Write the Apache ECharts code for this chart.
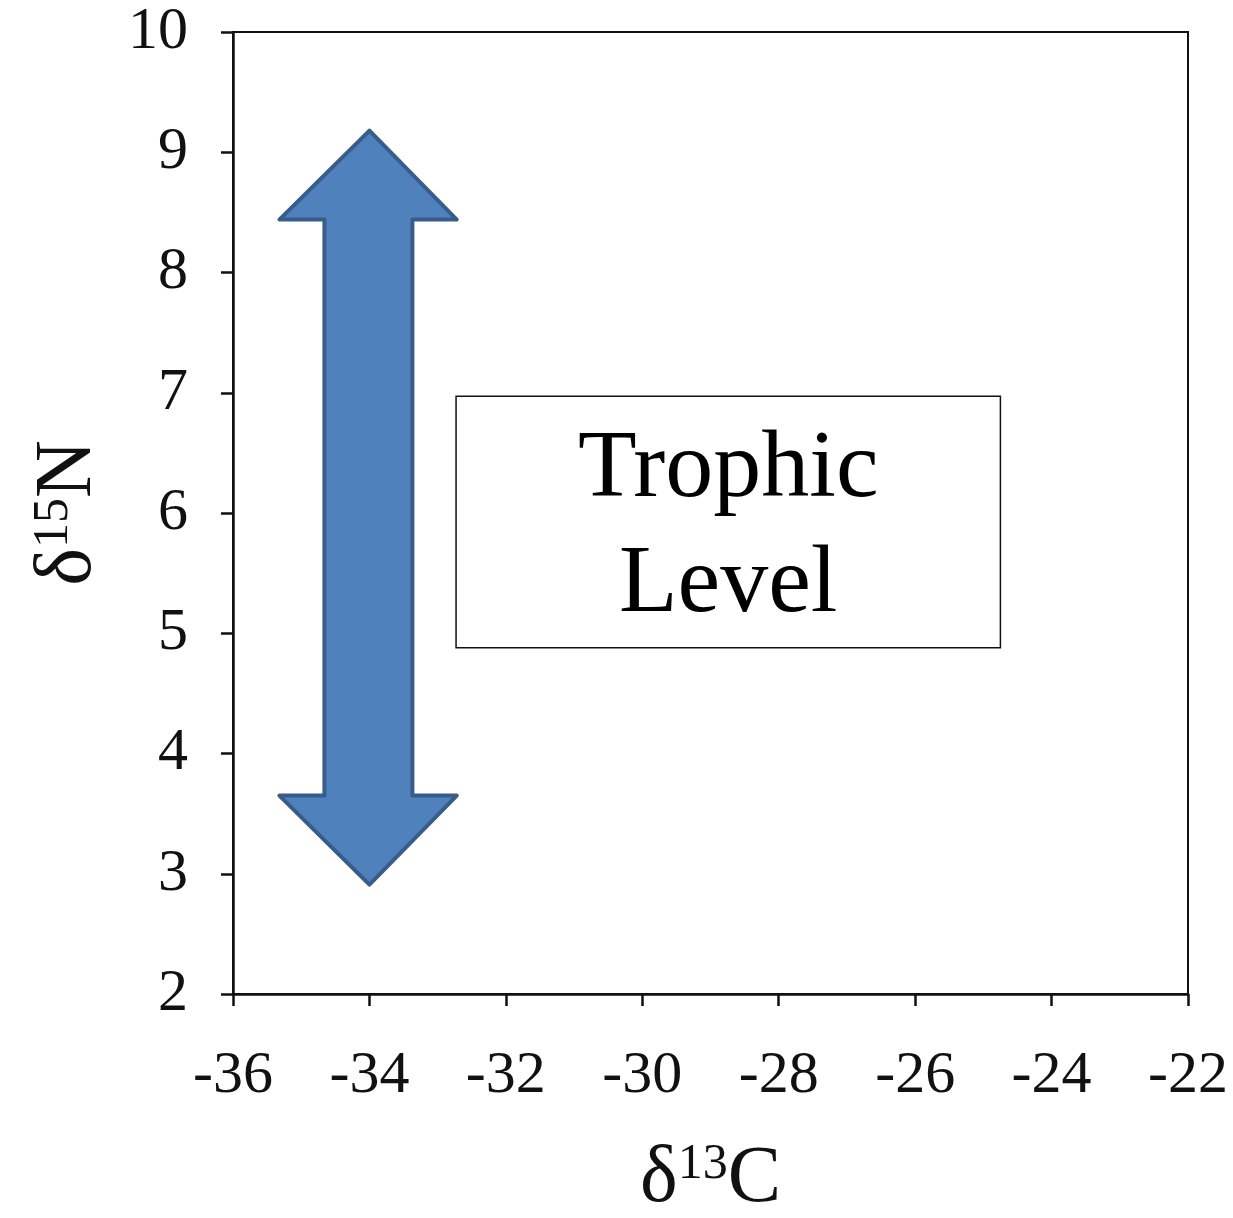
<!DOCTYPE html>
<html>
<head>
<meta charset="utf-8">
<script src="https://cdn.jsdelivr.net/npm/echarts@6/dist/echarts.min.js"></script>
<style>html,body{margin:0;padding:0;background:#fff;}#c{width:1233px;height:1218px;}</style>
</head>
<body>
<div id="c"></div>
<script>
// Axis ranges and ticks
const xMin = -36, xMax = -22, xStep = 2;
const yMin = 2, yMax = 10, yStep = 1;

// Double-headed arrow outline (δ13C, δ15N) vertices
const arrowX = [-34, -32.72, -33.37, -33.37, -32.72, -34, -35.32, -34.66, -34.66, -35.32];
const arrowY = [9.18, 8.44, 8.44, 3.65, 3.65, 2.91, 3.65, 3.65, 8.44, 8.44];

// Label box corners and text
const boxX = [-32.73, -24.75];
const boxY = [6.97, 4.88];
const boxLines = ['Trophic', 'Level'];

const FONT = '"Liberation Serif", "DejaVu Serif", serif';
const INK = '#111';

const chart = echarts.init(document.getElementById('c'), null, {renderer: 'canvas'});
chart.setOption({
  animation: false,
  backgroundColor: '#fff',
  grid: {left: 233, right: 45, top: 32, bottom: 224, containLabel: false, outerBoundsMode: 'none',
         show: true, borderColor: INK, borderWidth: 2, backgroundColor: 'transparent'},
  xAxis: {
    type: 'value', min: xMin, max: xMax, interval: xStep,
    name: '{d|δ}{s|13}{d|C}', nameLocation: 'middle', nameGap: 146,
    nameTextStyle: {rich: {
      d: {fontFamily: FONT, fontSize: 80, color: INK},
      s: {fontFamily: FONT, fontSize: 50, color: INK, verticalAlign: 'top', padding: [0, 0, 28, 0]}
    }},
    axisLine: {show: true, lineStyle: {color: INK, width: 2.5}},
    axisTick: {show: true, inside: false, length: 12, lineStyle: {color: INK, width: 2.5}},
    axisLabel: {fontFamily: FONT, fontSize: 60, color: INK, margin: 52},
    splitLine: {show: false}
  },
  yAxis: {
    type: 'value', min: yMin, max: yMax, interval: yStep,
    name: '{d|δ}{s|15}{d|N}', nameLocation: 'middle', nameGap: 124, nameRotate: 90,
    nameTextStyle: {rich: {
      d: {fontFamily: FONT, fontSize: 80, color: INK},
      s: {fontFamily: FONT, fontSize: 50, color: INK, verticalAlign: 'top', padding: [0, 0, 28, 0]}
    }},
    axisLine: {show: true, lineStyle: {color: INK, width: 2.5}},
    axisTick: {show: true, inside: false, length: 12, lineStyle: {color: INK, width: 2.5}},
    axisLabel: {fontFamily: FONT, fontSize: 60, color: INK, margin: 45},
    splitLine: {show: false}
  },
  series: [
    {
      type: 'custom', clip: false, silent: true,
      data: [[arrowX[0], arrowY[0]]],
      renderItem: function (params, api) {
        const pts = arrowX.map((x, i) => api.coord([x, arrowY[i]]));
        return {
          type: 'polygon',
          shape: {points: pts},
          style: {fill: '#4F81BD', stroke: '#385D8A', lineWidth: 4, lineJoin: 'round'}
        };
      }
    },
    {
      type: 'custom', clip: false, silent: true,
      data: [[boxX[0], boxY[0]]],
      renderItem: function (params, api) {
        const p1 = api.coord([boxX[0], boxY[0]]);
        const p2 = api.coord([boxX[1], boxY[1]]);
        const cx = (p1[0] + p2[0]) / 2, cy = (p1[1] + p2[1]) / 2;
        return {
          type: 'group',
          children: [
            {type: 'rect', shape: {x: p1[0], y: p1[1], width: p2[0] - p1[0], height: p2[1] - p1[1]},
             style: {fill: '#fff', stroke: INK, lineWidth: 1.5}},
            {type: 'text', x: cx, y: cy + 6,
             style: {text: boxLines.join('\n'), fontFamily: FONT, fontSize: 96, lineHeight: 115,
                     fill: '#000', align: 'center', verticalAlign: 'middle'}}
          ]
        };
      }
    }
  ]
});
</script>
</body>
</html>
